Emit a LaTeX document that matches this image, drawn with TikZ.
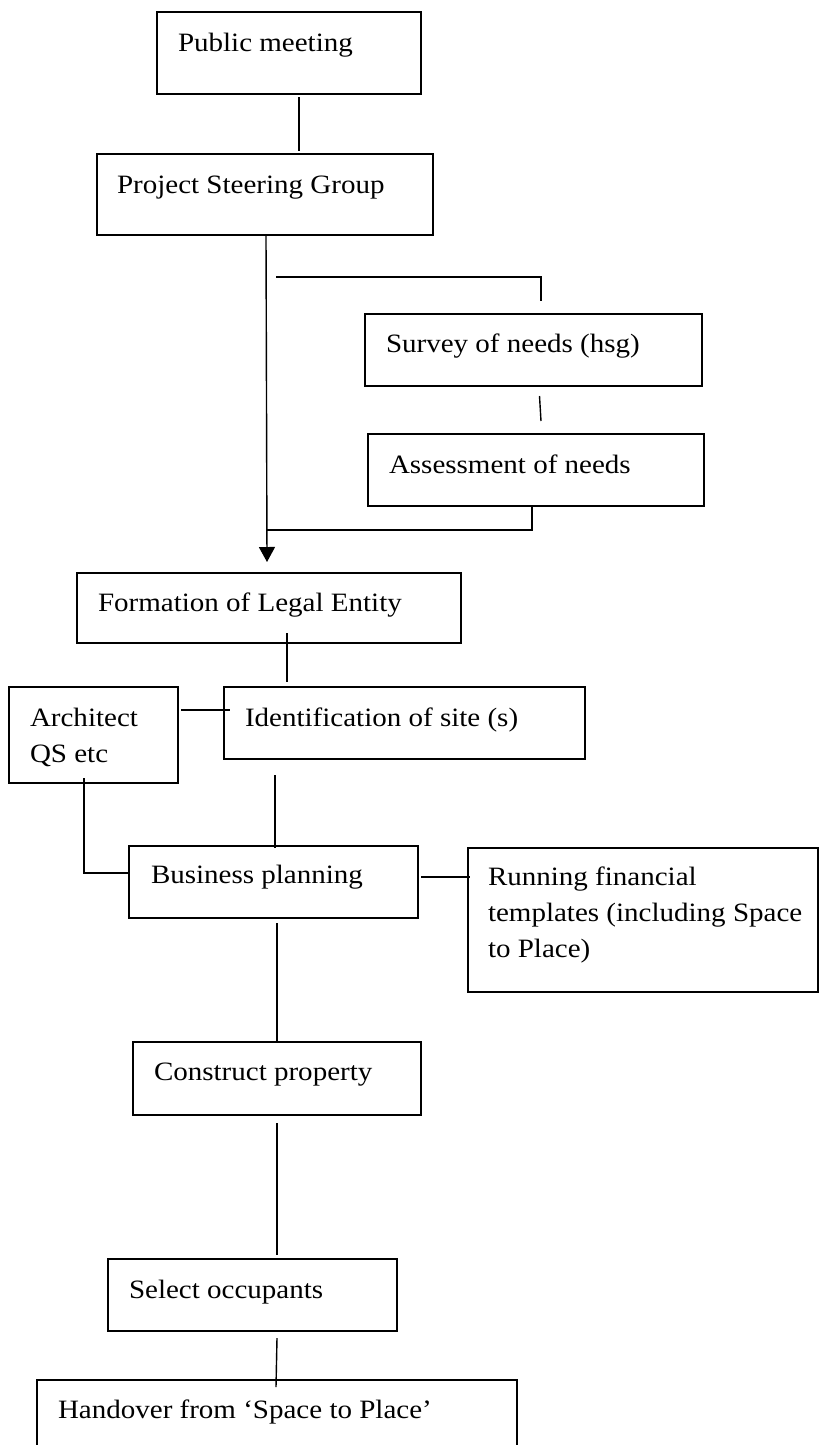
\documentclass[tikz,border=0pt]{standalone}
\usepackage{fontspec}
\setmainfont[FakeStretch=1.095]{Liberation Serif}
\usetikzlibrary{arrows.meta}
\tikzset{
  box/.style={draw=black, line width=1.4pt, rectangle, inner sep=0pt, outer sep=0pt, anchor=north west},
  lbl/.style={anchor=base west, inner sep=0pt, outer sep=0pt, font=\fontsize{26.5}{36}\selectfont},
  conn/.style={draw=black, line width=1.4pt},
  arr/.style={conn, -{Triangle[width=16pt,length=15pt]}}
}
\begin{document}
\begin{tikzpicture}[x=1pt, y=-1pt]
\clip (0,0) rectangle (819,1445);
% boxes
\node[box, minimum width=264pt, minimum height=82pt] (pm) at (157,12) {};
\node[box, minimum width=336pt, minimum height=81pt] (psg) at (97,154) {};
\node[box, minimum width=337pt, minimum height=72pt] (sur) at (365,314) {};
\node[box, minimum width=336pt, minimum height=72pt] (ass) at (368,434) {};
\node[box, minimum width=384pt, minimum height=70pt] (form) at (77,573) {};
\node[box, minimum width=169pt, minimum height=96pt] (arch) at (9,687) {};
\node[box, minimum width=361pt, minimum height=72pt] (ident) at (224,687) {};
\node[box, minimum width=289pt, minimum height=72pt] (bus) at (129,846) {};
\node[box, minimum width=350pt, minimum height=144pt] (run) at (468,848) {};
\node[box, minimum width=288pt, minimum height=73pt] (cons) at (133,1042) {};
\node[box, minimum width=289pt, minimum height=72pt] (sel) at (108,1259) {};
\node[box, minimum width=480pt, minimum height=100pt] (hand) at (37,1380) {};
% labels
\node[lbl] (pmt) at (178,52) {Public meeting};
\node[lbl] (psgt) at (117,193) {Project Steering Group};
\node[lbl] (surt) at (386,352) {Survey of needs (hsg)};
\node[lbl] (asst) at (389,473) {Assessment of needs};
\node[lbl] (formt) at (98,611) {Formation of Legal Entity};
\node[lbl] (archt1) at (30,726) {Architect};
\node[lbl] (archt2) at (30,762) {QS etc};
\node[lbl] (identt) at (245,726) {Identification of site (s)};
\node[lbl] (bust) at (151,883) {Business planning};
\node[lbl] (runt1) at (488,885) {Running financial};
\node[lbl] (runt2) at (488,921) {templates (including Space};
\node[lbl] (runt3) at (488,957) {to Place)};
\node[lbl] (const) at (154,1080) {Construct property};
\node[lbl] (selt) at (129,1298) {Select occupants};
\node[lbl] (handt) at (58,1418) {Handover from `Space to Place'};
% free ends
\coordinate (br) at (276,277);
\coordinate (join) at (267,530);
% connectors
\draw[conn] ([shift={(10,3)}]pm.south) -- ([shift={(34,-3)}]psg.north);
\draw[arr] ([shift={(1,0)}]psg.south) -- ([shift={(-2,-11)}]form.north);
\draw[conn] (br) -| ([shift={(7.5,-13)}]sur.north);
\draw[conn] ([shift={(6,10)}]sur.south) -- ([shift={(5,-13)}]ass.north);
\draw[conn] ([shift={(-4,0)}]ass.south) |- (join);
\draw[conn] ([shift={(18,-10)}]form.south) -- ([shift={(-117.5,-5)}]ident.north);
\draw[conn] ([shift={(3,-25)}]arch.east) -- ([shift={(6,-13)}]ident.west);
\draw[conn] ([shift={(-129.5,16)}]ident.south) -- ([shift={(1.5,2)}]bus.north);
\draw[conn] ([shift={(-9.5,-5)}]arch.south) |- ([shift={(0,-9)}]bus.west);
\draw[conn] ([shift={(3,-5)}]bus.east) -- ([shift={(2,-43)}]run.west);
\draw[conn] ([shift={(3.5,5)}]bus.south) -- (cons.north);
\draw[conn] ([shift={(0,8)}]cons.south) -- ([shift={(24.5,-4)}]sel.north);
\draw[conn] ([shift={(24.5,7)}]sel.south) -- ([shift={(-1,7)}]hand.north);
\end{tikzpicture}
\end{document}
